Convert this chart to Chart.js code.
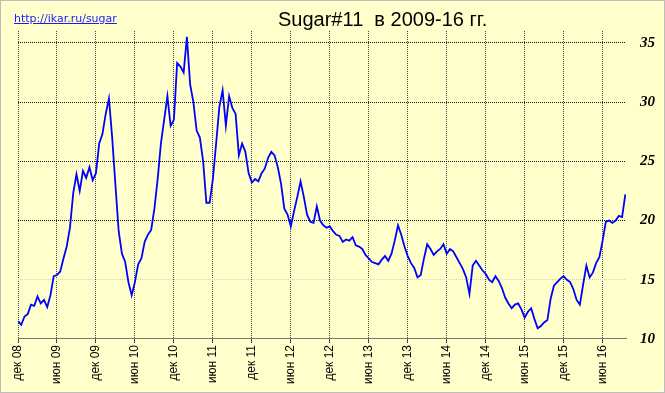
<!DOCTYPE html>
<html>
<head>
<meta charset="utf-8">
<script src="https://cdn.jsdelivr.net/npm/chart.js@4"></script>
<style>
  body { margin: 0; background: #fff; }
  #wrap { position: relative; width: 665px; height: 393px; }
  #chart { position: absolute; left: 0; top: 0; }
  #link { position: absolute; left: 14px; top: 12px; font: 11px/13px "DejaVu Sans", sans-serif; color: #1a1aff; text-decoration: underline; }
  #title { position: absolute; left: 278px; top: 9px; font: 20px/20px "Liberation Sans", Arial, sans-serif; color: #000; white-space: pre; }
</style>
</head>
<body>
<div id="wrap">
  <canvas id="chart" width="665" height="393"></canvas>
  <a id="link" href="http://ikar.ru/sugar">http://ikar.ru/sugar</a>
  <div id="title">Sugar#11  в 2009-16 гг.</div>
</div>
<script>
// sugar #11 price, one value every half month starting dec 2008
var prices = [
  11.5, 11.2, 11.9, 12.1, 12.9, 12.8, 13.6, 13.0, 13.3, 12.7, 13.7, 15.3,
  15.4, 15.7, 16.8, 17.8, 19.4, 22.3, 23.9, 22.5, 24.2, 23.6, 24.5, 23.4,
  24.0, 26.5, 27.3, 29.0, 30.3, 27.0, 23.0, 19.1, 17.2, 16.5, 14.8, 13.7,
  14.8, 16.3, 16.8, 18.2, 18.8, 19.2, 21.0, 23.5, 26.5, 28.5, 30.5, 28.0,
  28.5, 33.3, 33.0, 32.5, 35.5, 31.5, 30.0, 27.6, 27.0, 25.0, 21.5, 21.5,
  23.5, 26.5, 29.6, 31.0, 28.0, 30.5, 29.5, 29.0, 25.5, 26.5, 25.8, 24.0,
  23.2, 23.5, 23.3, 24.0, 24.4, 25.3, 25.8, 25.5, 24.5, 23.1, 21.0, 20.5,
  19.5, 20.8, 22.0, 23.3, 22.0, 20.5, 19.9, 19.8, 21.2, 20.0, 19.6, 19.4,
  19.5, 19.1, 18.8, 18.7, 18.2, 18.4, 18.3, 18.6, 17.9, 17.8, 17.6, 17.1,
  16.8, 16.5, 16.4, 16.3, 16.7, 17.0, 16.6, 17.2, 18.3, 19.6, 18.8, 17.8,
  17.0, 16.4, 16.0, 15.2, 15.4, 16.8, 18.0, 17.6, 17.1, 17.4, 17.6, 18.0,
  17.2, 17.6, 17.4, 16.9, 16.4, 15.9, 15.2, 13.8, 16.2, 16.6, 16.2, 15.8,
  15.5, 15.0, 14.8, 15.3, 14.9, 14.3, 13.5, 13.0, 12.6, 12.9, 13.0, 12.5,
  11.8, 12.3, 12.6, 11.7, 10.9, 11.1, 11.4, 11.6, 13.4, 14.5, 14.8, 15.1,
  15.3, 15.0, 14.8, 14.2, 13.3, 12.9, 14.6, 16.2, 15.2, 15.6, 16.4, 16.9,
  18.3, 19.9, 20.0, 19.8, 20.0, 20.4, 20.3, 22.2
];

// months since dec 2008 where the date labels sit
var xTickPos = [0, 6, 12, 18, 24, 30, 36, 42, 48, 54, 60, 66, 72, 78, 84, 90];
var xTickLabels = ['дек 08', 'июн 09', 'дек 09', 'июн 10', 'дек 10', 'июн 11', 'дек 11', 'июн 12',
                   'дек 12', 'июн 13', 'дек 13', 'июн 14', 'дек 14', 'июн 15', 'дек 15', 'июн 16'];
var yTicks = [10, 15, 20, 25, 30, 35];

var points = prices.map(function (v, i) { return { x: i * 0.5, y: v }; });

var background = {
  id: 'background',
  beforeDraw: function (chart) {
    var ctx = chart.ctx;
    ctx.save();
    ctx.fillStyle = '#ffffcc';
    ctx.fillRect(0, 0, chart.width, chart.height);
    ctx.strokeStyle = '#bdbdbd';
    ctx.lineWidth = 1;
    ctx.strokeRect(0.5, 0.5, chart.width - 1, chart.height - 1);
    ctx.restore();
  }
};

new Chart(document.getElementById('chart').getContext('2d'), {
  type: 'line',
  data: {
    datasets: [{
      data: points,
      borderColor: '#0000ff',
      borderWidth: 1.8,
      pointRadius: 0,
      tension: 0,
      fill: false
    }]
  },
  options: {
    responsive: false,
    animation: false,
    layout: { padding: { top: 31, left: 18, right: 0, bottom: 7 } },
    plugins: { legend: { display: false }, tooltip: { enabled: false } },
    scales: {
      x: {
        type: 'linear',
        min: 0,
        max: 93.6,
        afterBuildTicks: function (s) { s.ticks = xTickPos.map(function (v) { return { value: v }; }); },
        ticks: {
          autoSkip: false,
          minRotation: 90,
          maxRotation: 90,
          padding: 2,
          color: '#000',
          font: { family: 'Liberation Sans', size: 12 },
          callback: function (v, i) { return xTickLabels[i]; }
        },
        grid: { color: '#444', lineWidth: 1, tickLength: 4 },
        border: { display: true, color: '#777', width: 1, dash: [1, 1] }
      },
      y: {
        position: 'right',
        min: 10,
        max: 36,
        afterBuildTicks: function (s) { s.ticks = yTicks.map(function (v) { return { value: v }; }); },
        afterFit: function (s) { s.width = 39; },
        ticks: {
          padding: 14,
          color: '#000',
          font: { family: 'Liberation Serif', size: 15, weight: 'bold', style: 'italic' }
        },
        grid: {
          drawTicks: false,
          color: function (c) {
            if (c.tick.value === 10) return 'rgba(0,0,0,0)';
            if (c.tick.value === 15) return '#d2d2b4';
            return '#111';
          }
        },
        border: { display: false, dash: [1, 1] }
      }
    }
  },
  plugins: [background]
});
</script>
</body>
</html>
